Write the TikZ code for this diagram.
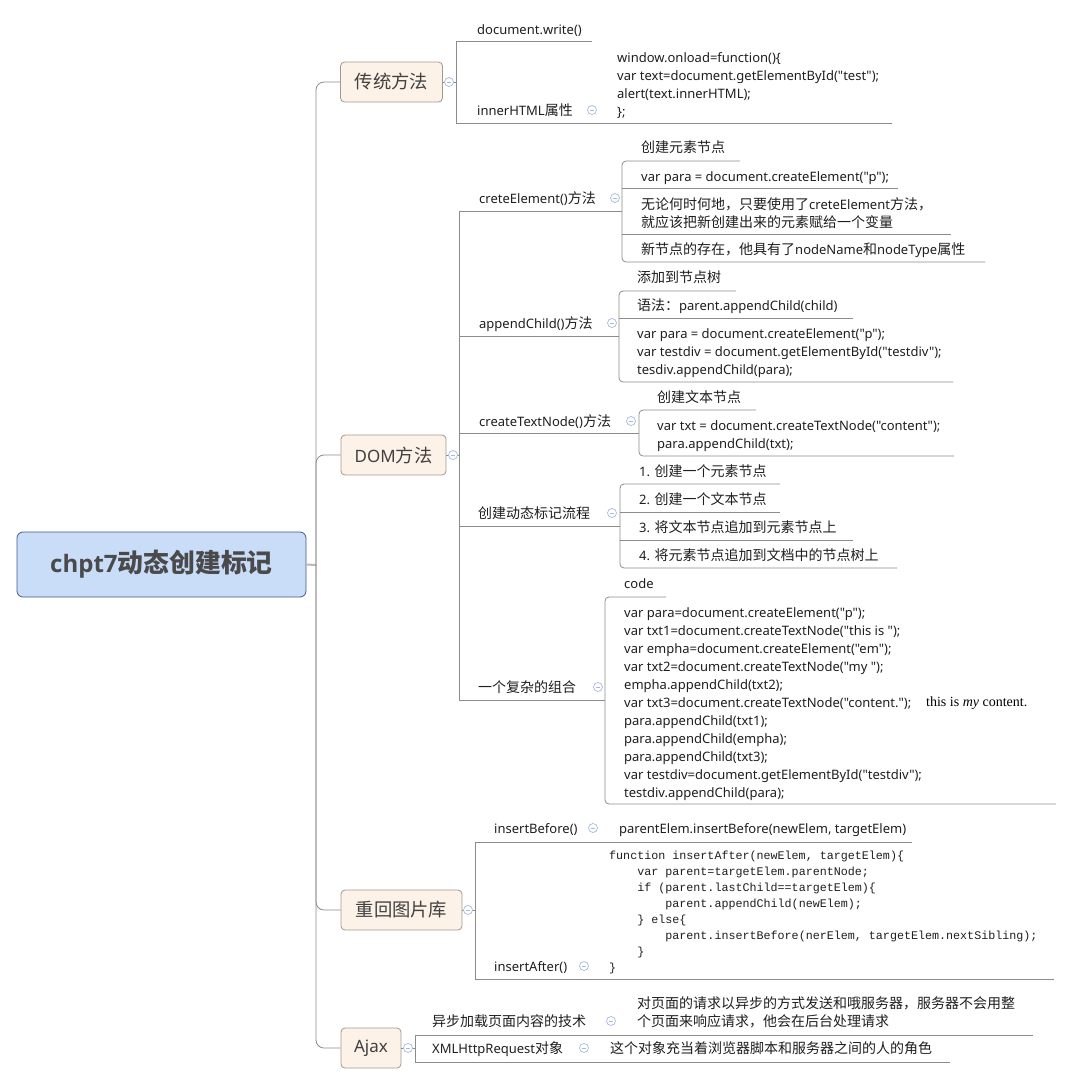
\documentclass[tikz,border=0pt]{standalone}
\usepackage{fontspec}
\setmainfont{Noto Sans}
\newfontfamily\lat{Noto Sans}
\newfontfamily\latb{Open Sans}
\newfontfamily\cjk{Noto Sans CJK SC}[Scale=1.077]
\newfontfamily\mono{Liberation Mono}
\newfontfamily\serifr{Liberation Serif}
\newcommand{\zh}[1]{{\cjk #1}}
\definecolor{linec}{HTML}{8C8C8C}
\definecolor{rootfill}{HTML}{C9DCF8}
\definecolor{rootdraw}{HTML}{44598A}
\definecolor{roottext}{HTML}{4A4A4A}
\definecolor{brfill}{HTML}{FDF2E8}
\definecolor{brdraw}{HTML}{A39890}
\definecolor{iconc}{HTML}{A7B8DA}
\definecolor{txtc}{HTML}{1E1E1E}
\definecolor{rootline}{HTML}{B8B8B8}
\tikzset{
  conn/.style={draw=linec, line width=0.8pt},
  rootconn/.style={draw=rootline, line width=2pt},
  lbl/.style={anchor=base west, inner sep=0pt, text=txtc, font=\lat\fontsize{13}{18}\selectfont},
  mlbl/.style={anchor=north west, inner sep=0pt, text=txtc, align=left, font=\lat\fontsize{13}{18}\selectfont},
  monob/.style={anchor=north west, inner sep=0pt, text=txtc, align=left, font=\mono\fontsize{11.7}{16}\selectfont},
  branch/.style={draw=brdraw, fill=brfill, rounded corners=4pt, line width=0.8pt, minimum height=40pt, inner sep=0pt, text=txtc!85, font=\lat\fontsize{17}{20}\selectfont},
  rootbox/.style={draw=rootdraw, fill=rootfill, rounded corners=6pt, line width=0.8pt, minimum width=289pt, minimum height=65pt, inner sep=0pt, text=roottext, font=\fontsize{24}{28}\selectfont\bfseries},
  icon/.style={circle, draw=iconc, fill=white, line width=0.7pt, minimum size=9pt, inner sep=0pt,
    path picture={\draw[iconc, line width=0.7pt] ([xshift=-2.4pt]path picture bounding box.center) -- ([xshift=2.4pt]path picture bounding box.center);}},
}
\begin{document}
\begin{tikzpicture}[x=1pt,y=-1pt]
\useasboundingbox (0,0) rectangle (1065,1085);

% ---------- root and main branches ----------
\node[rootbox] (root) at (161.5,564.5) {{\latb\bfseries chpt7}\zh{动态创建标记}};
\node[branch, minimum width=102pt] (tb) at (391.5,82) {\zh{传统方法}};
\node[branch, minimum width=105pt] (dom) at (393.5,455) {DOM\zh{方法}};
\node[branch, minimum width=121pt] (chb) at (401.5,910) {\zh{重回图片库}};
\node[branch, minimum width=60pt] (ajax) at (371,1048) {Ajax};

\coordinate (hub) at (316,565);
\draw[rootconn] (root.east) -- (hub);
\draw[conn, rounded corners=8pt] (hub) |- (tb.west);
\draw[conn, rounded corners=8pt] (hub) |- (dom.west);
\draw[conn, rounded corners=8pt] (hub) |- (chb.west);
\draw[conn, rounded corners=8pt] (hub) |- (ajax.west);

% ---------- 传统方法 ----------
\draw[conn] (tb.east) -- (456,82);
\draw[conn] (592,41) -- (456,41) -- (456,123) -- (892,123);
\node[lbl] (dw) at (477,34) {document.write()};
\node[lbl] (ih) at (477,115) {innerHTML\zh{属性}};
\node[mlbl] (ihc) at (617,49.4) {\strut window.onload=function()\{\\
var text=document.getElementById("test");\\
alert(text.innerHTML);\\
\};};

% ---------- DOM方法 ----------
\draw[conn] (dom.east) -- (459,455);
\draw[conn] (622,211) -- (459,211) -- (459,700) -- (605,700);
\draw[conn] (459,336) -- (619,336);
\draw[conn] (459,433) -- (639,433);
\draw[conn] (459,526) -- (620,526);

\node[lbl] (ce) at (479,203) {creteElement()\zh{方法}};
\node[lbl] (ac) at (479,328) {appendChild()\zh{方法}};
\node[lbl] (ct) at (479,426) {createTextNode()\zh{方法}};
\node[lbl] (dy) at (478,518) {\zh{创建动态标记流程}};
\node[lbl] (fz) at (478,692) {\zh{一个复杂的组合}};

% creteElement children
\draw[conn, rounded corners=4pt] (740,161) -- (622,161) -- (622,262) -- (985,262);
\draw[conn] (622,188) -- (898,188);
\draw[conn] (622,234) -- (951,234);
\node[lbl] (ce1) at (641,152) {\zh{创建元素节点}};
\node[lbl] (ce2) at (641,181) {var para = document.createElement("p");};
\node[mlbl] (ce3) at (641,196.4) {\strut\zh{无论何时何地，只要使用了}creteElement\zh{方法，}\\
\zh{就应该把新创建出来的元素赋给一个变量}};
\node[lbl] (ce4) at (641,254) {\zh{新节点的存在，他具有了}nodeName\zh{和}nodeType\zh{属性}};

% appendChild children
\draw[conn, rounded corners=4pt] (736,291) -- (619,291) -- (619,382) -- (953,382);
\draw[conn] (619,318) -- (853,318);
\node[lbl] (ac1) at (637,282) {\zh{添加到节点树}};
\node[lbl] (ac2) at (637,310) {\zh{语法：}parent.appendChild(child)};
\node[mlbl] (ac3) at (637,325.4) {\strut var para = document.createElement("p");\\
var testdiv = document.getElementById("testdiv");\\
tesdiv.appendChild(para);};

% createTextNode children
\draw[conn, rounded corners=4pt] (756,410) -- (639,410) -- (639,456) -- (954,456);
\node[lbl] (ct1) at (657,402) {\zh{创建文本节点}};
\node[mlbl] (ct2) at (657,417.4) {\strut var txt = document.createTextNode("content");\\
para.appendChild(txt);};

% 创建动态标记流程 children
\draw[conn, rounded corners=4pt] (780,484) -- (620,484) -- (620,568) -- (897,568);
\draw[conn] (620,512) -- (780,512);
\draw[conn] (620,540) -- (853,540);
\node[lbl] (dy1) at (639,476) {1. \zh{创建一个元素节点}};
\node[lbl] (dy2) at (639,504) {2. \zh{创建一个文本节点}};
\node[lbl] (dy3) at (639,532) {3. \zh{将文本节点追加到元素节点上}};
\node[lbl] (dy4) at (639,560) {4. \zh{将元素节点追加到文档中的节点树上}};

% 一个复杂的组合 children
\draw[conn, rounded corners=4pt] (666,597) -- (605,597) -- (605,804) -- (1056,804);
\node[lbl] (fz1) at (624,588) {code};
\node[mlbl] (fz2) at (624,604.4) {\strut var para=document.createElement("p");\\
var txt1=document.createTextNode("this is ");\\
var empha=document.createElement("em");\\
var txt2=document.createTextNode("my ");\\
empha.appendChild(txt2);\\
var txt3=document.createTextNode("content.");\\
para.appendChild(txt1);\\
para.appendChild(empha);\\
para.appendChild(txt3);\\
var testdiv=document.getElementById("testdiv");\\
testdiv.appendChild(para);};
\node[anchor=base west, inner sep=0pt, text=black, font=\serifr\fontsize{14}{16}\selectfont] (res) at (926,706.5) {this is \textit{my} content.};

% ---------- 重回图片库 ----------
\draw[conn] (chb.east) -- (475,910);
\draw[conn] (912,842) -- (475,842) -- (475,979) -- (1054,979);
\node[lbl] (ib) at (494,833) {insertBefore()};
\node[lbl] (ib1) at (619,833) {parentElem.insertBefore(newElem, targetElem)};
\node[lbl] (ia) at (494,971) {insertAfter()};
\node[monob] (ia1) at (609,847.8) {\strut function insertAfter(newElem, targetElem)\{\\
\phantom{0000}var parent=targetElem.parentNode;\\
\phantom{0000}if (parent.lastChild==targetElem)\{\\
\phantom{00000000}parent.appendChild(newElem);\\
\phantom{0000}\} else\{\\
\phantom{00000000}parent.insertBefore(nerElem, targetElem.nextSibling);\\
\phantom{0000}\}\\
\}};

% ---------- Ajax ----------
\draw[conn] (ajax.east) -- (415,1048);
\draw[conn] (1033,1035) -- (415,1035) -- (415,1062) -- (950,1062);
\node[lbl] (aj1) at (432,1026) {\zh{异步加载页面内容的技术}};
\node[mlbl] (aj2) at (637,995.4) {\strut\zh{对页面的请求以异步的方式发送和哦服务器，服务器不会用整}\\
\zh{个页面来响应请求，他会在后台处理请求}};
\node[lbl] (aj3) at (432,1053) {XMLHttpRequest\zh{对象}};
\node[lbl] (aj4) at (610,1053) {\zh{这个对象充当着浏览器脚本和服务器之间的人的角色}};

% ---------- collapse icons ----------
\node[icon] (x1) at (449,82) {};
\node[icon] (x2) at (453,455) {};
\node[icon] (x3) at (468,910) {};
\node[icon] (x4) at (408,1048) {};
\node[icon] (y1) at (592,110) {};
\node[icon] (y2) at (615,198) {};
\node[icon] (y3) at (612,323) {};
\node[icon] (y4) at (631,421) {};
\node[icon] (y5) at (612,513) {};
\node[icon] (y6) at (598,687) {};
\node[icon] (y7) at (593,828) {};
\node[icon] (y8) at (584,966) {};
\node[icon] (y9) at (611,1021) {};
\node[icon] (y10) at (584,1048) {};
\end{tikzpicture}
\end{document}
